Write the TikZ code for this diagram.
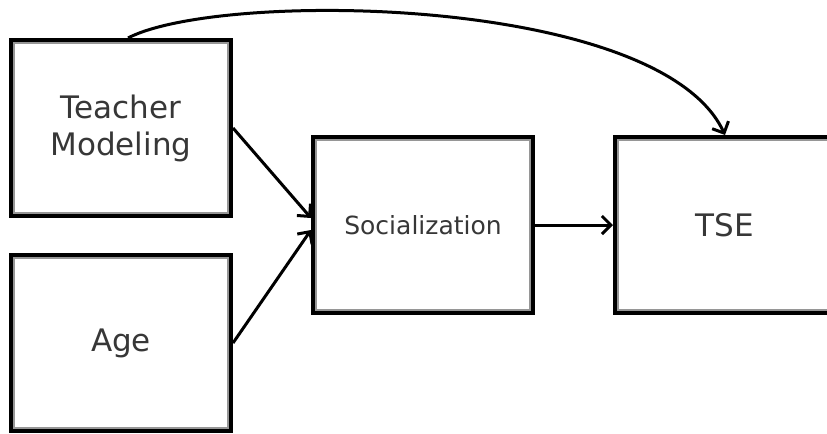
\documentclass[tikz,border=0pt]{standalone}
\usepackage{fontspec}
\setmainfont{DejaVu Sans}
\usetikzlibrary{arrows.meta}

\begin{document}
\begin{tikzpicture}[x=0.5pt, y=-0.5pt]

    % colours for text and inner frame
    \definecolor{BoxText}{RGB}{55, 55, 55}
    \definecolor{BoxInner}{RGB}{150, 150, 150}

    \tikzset{
        box/.style={draw=black, line width=2pt, minimum width=110pt, minimum height=88pt,
            align=center, text=BoxText, font=\fontsize{15.5}{18.5}\selectfont},
        link/.style={line width=1.5pt, -{Straight Barb[length=4.5pt, width=9pt]}}
    }

    \useasboundingbox[fill=white] (0,0) rectangle (827,434);

    % boxes
    \node[box] (teacher) at (121,128) {Teacher\\Modeling};
    \node[box] (age) at (121,343) {Age};
    \node[box, font=\fontsize{12.5}{15}\selectfont] (social) at (423,225) {Socialization};
    \node[box] (tse) at (725,225) {TSE};

    % grey inner line of each frame
    \foreach \n in {teacher, age, social, tse}
        \draw[BoxInner, line width=1pt] ([shift={(2.5pt,-2.5pt)}]\n.north west) rectangle ([shift={(-2.5pt,2.5pt)}]\n.south east);

    % arrows
    \draw[link] (teacher.east) -- ([yshift=3.5pt]social.west);
    \draw[link] (age.east) -- ([yshift=-2.5pt]social.west);
    \draw[link] (social.east) -- (tse.west);
    \draw[link] ([xshift=3.5pt]teacher.north) .. controls (220,-10) and (660,-5) .. (tse.north);

\end{tikzpicture}
\end{document}
